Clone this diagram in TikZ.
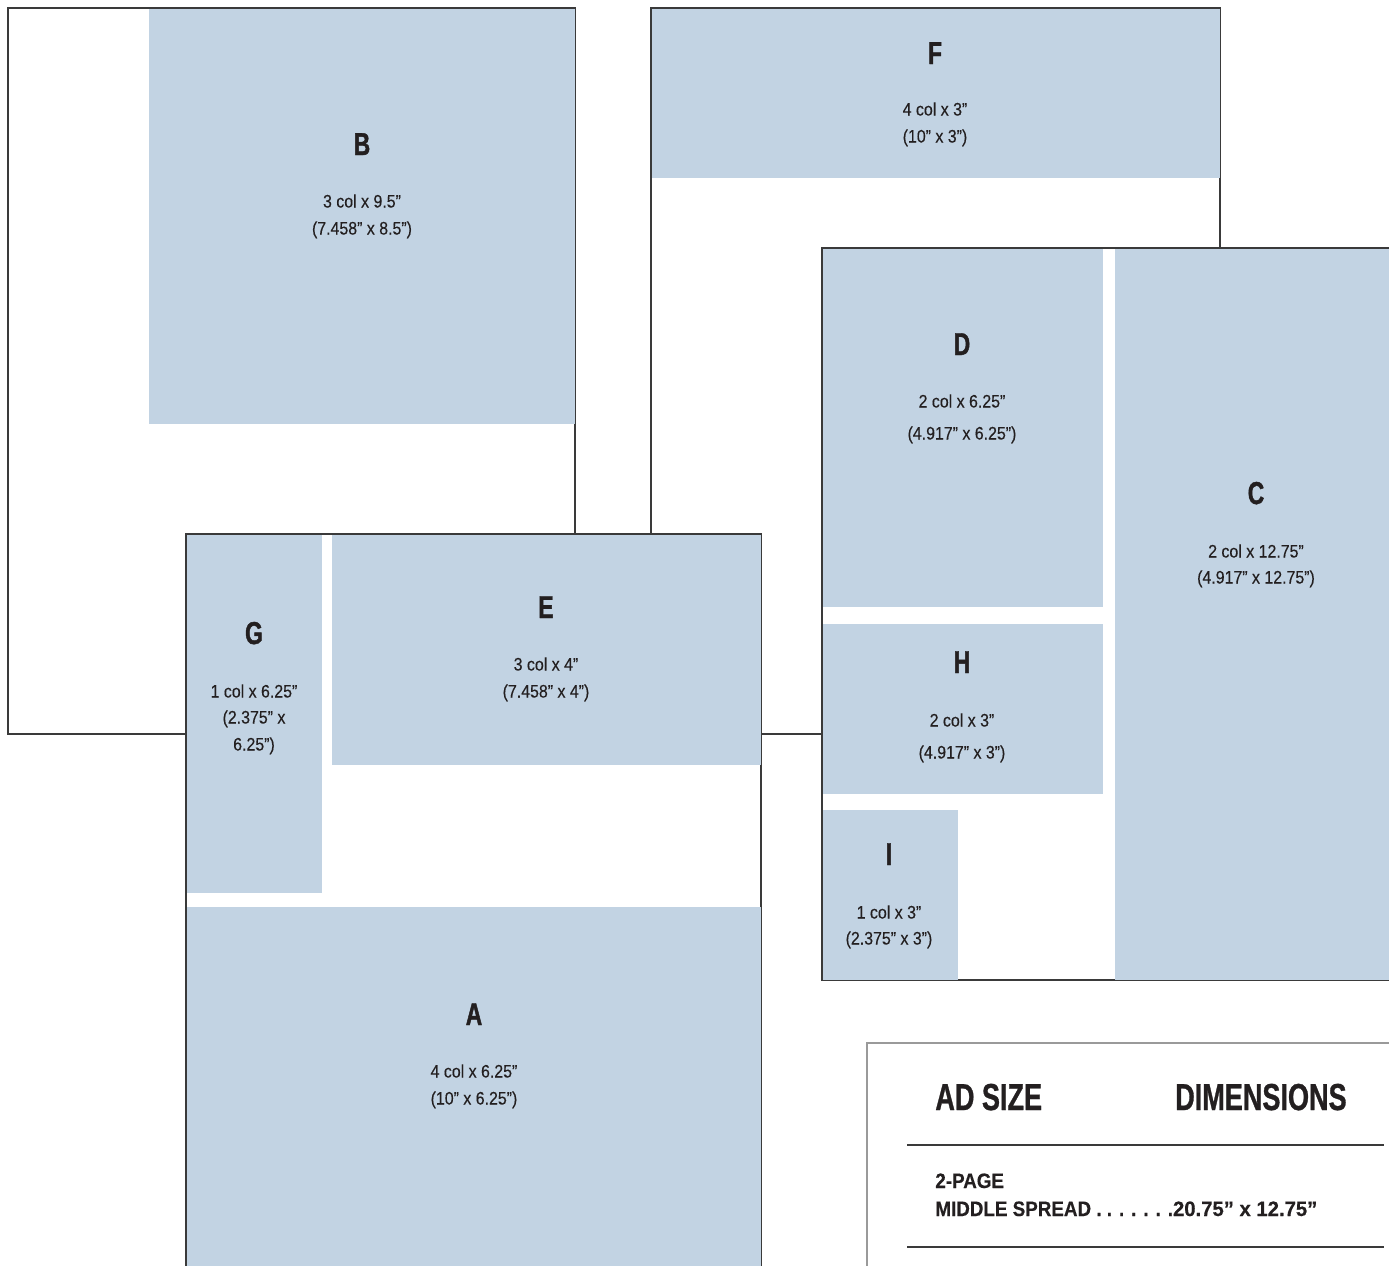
\documentclass[tikz,border=0pt]{standalone}
\usepackage{fontspec}
\setmainfont{Liberation Sans}[FakeStretch=0.88, FakeBold=0.25]
\newfontfamily\letterfont{Liberation Sans}[FakeStretch=0.72, FakeBold=1.4]
\newfontfamily\headfont{Liberation Sans}[FakeStretch=0.72, FakeBold=0.8]
\newfontfamily\tablefont{Liberation Sans}[FakeStretch=0.9, FakeBold=0.3]
\newfontfamily\numfont{Liberation Sans}[FakeStretch=0.97, FakeBold=0.3]
\definecolor{adblue}{HTML}{C2D3E3}
\definecolor{pageline}{HTML}{3A3A3A}
\definecolor{tableline}{HTML}{9A9A9A}
\definecolor{ink}{HTML}{231F20}
\tikzset{
  pagebox/.style={draw=pageline, line width=0.7pt, fill=white},
  adarea/.style={fill=adblue},
  lettr/.style={anchor=base, inner sep=0pt, text=ink, font=\letterfont\bfseries\fontsize{18}{18}\selectfont},
  dimtxt/.style={anchor=base, inner sep=0pt, text=ink, font=\fontsize{10.3}{12}\selectfont},
  headtxt/.style={anchor=base west, inner sep=0pt, text=ink, font=\headfont\bfseries\fontsize{21.4}{24}\selectfont},
  rowtxt/.style={anchor=base west, inner sep=0pt, text=ink, font=\tablefont\bfseries\fontsize{11.9}{14}\selectfont},
  rule/.style={draw=pageline, line width=0.7pt}
}
\begin{document}
\begin{tikzpicture}[x=0.02cm, y=-0.02cm]
\clip (0,0) rectangle (1389,1265);
\fill[white] (0,0) rectangle (1389,1265);
% page 1 (B)
\draw[pagebox] (8,8) rectangle (575,734);
\fill[adarea] (149,8.5) rectangle (575,424);
% page 2 (F)
\draw[pagebox] (651,8) rectangle (1220,734);
\fill[adarea] (651.5,8.5) rectangle (1220,178);
% page 3 (A, E, G)
\draw[pagebox] (186,534) rectangle (761,1290);
\fill[adarea] (187,535) rectangle (322,893);
\fill[adarea] (332,535) rectangle (761,765);
\fill[adarea] (187,907) rectangle (761,1290);
% page 4 (C, D, H, I)
\draw[pagebox] (822,248) rectangle (1400,980);
\fill[adarea] (822.5,248.5) rectangle (1103,607);
\fill[adarea] (822.5,624) rectangle (1103,794);
\fill[adarea] (822.5,810) rectangle (958,979.5);
\fill[adarea] (1115,248.5) rectangle (1400,979.5);
% table page
\draw[draw=tableline, line width=0.7pt] (867,1275) -- (867,1043) -- (1395,1043);
\coordinate (r1a) at (907,1145);
\coordinate (r1b) at (1384,1145);
\coordinate (r2a) at (907,1247);
\coordinate (r2b) at (1384,1247);
\draw[rule] (r1a) -- (r1b);
\draw[rule] (r2a) -- (r2b);

% labels B
\node[lettr] (Bl) at (362,155) {B};
\node[dimtxt] (B1) at (362,207.5) {3 col x 9.5”};
\node[dimtxt] (B2) at (362,234.5) {(7.458” x 8.5”)};
% F
\node[lettr] (Fl) at (935,64) {F};
\node[dimtxt] (F1) at (935,115.5) {4 col x 3”};
\node[dimtxt] (F2) at (935,142.5) {(10” x 3”)};
% D
\node[lettr] (Dl) at (962,355) {D};
\node[dimtxt] (D1) at (962,407.5) {2 col x 6.25”};
\node[dimtxt] (D2) at (962,439.5) {(4.917” x 6.25”)};
% C
\node[lettr] (Cl) at (1256,504) {C};
\node[dimtxt] (C1) at (1256,557.5) {2 col x 12.75”};
\node[dimtxt] (C2) at (1256,583.5) {(4.917” x 12.75”)};
% E
\node[lettr] (El) at (546,618) {E};
\node[dimtxt] (E1) at (546,670.5) {3 col x 4”};
\node[dimtxt] (E2) at (546,697.5) {(7.458” x 4”)};
% G
\node[lettr] (Gl) at (254,644) {G};
\node[dimtxt] (G1) at (254,697.5) {1 col x 6.25”};
\node[dimtxt] (G2) at (254,723.5) {(2.375” x};
\node[dimtxt] (G3) at (254,750.5) {6.25”)};
% H
\node[lettr] (Hl) at (962,673) {H};
\node[dimtxt] (H1) at (962,726.5) {2 col x 3”};
\node[dimtxt] (H2) at (962,758.5) {(4.917” x 3”)};
% I
\node[lettr] (Il) at (889,865) {I};
\node[dimtxt] (I1) at (889,918.5) {1 col x 3”};
\node[dimtxt] (I2) at (889,944.5) {(2.375” x 3”)};
% A
\node[lettr] (Al) at (474,1025) {A};
\node[dimtxt] (A1) at (474,1077.5) {4 col x 6.25”};
\node[dimtxt] (A2) at (474,1104.5) {(10” x 6.25”)};
% table text
\node[headtxt] (h1) at (935,1110) {AD SIZE};
\node[headtxt, anchor=base east] (h2) at (1347,1110) {DIMENSIONS};
\node[rowtxt] (t1) at (935,1188) {2-PAGE};
\node[rowtxt] (t2) at (935,1216) {MIDDLE SPREAD . . . . . . .{\numfont 20.75” x 12.75”}};
\end{tikzpicture}
\end{document}
